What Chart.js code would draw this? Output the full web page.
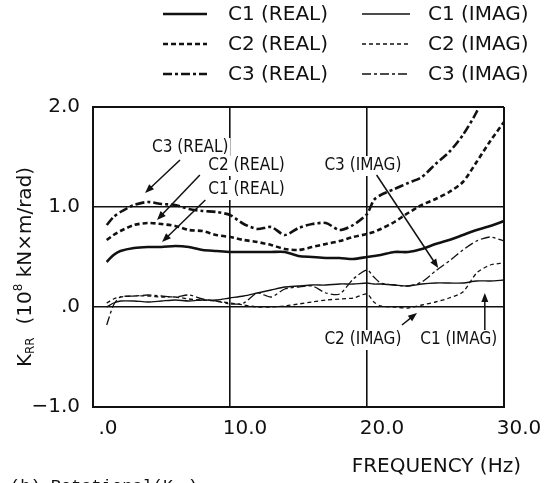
<!DOCTYPE html>
<html>
<head>
<meta charset="utf-8">
<script src="https://cdn.jsdelivr.net/npm/chart.js@4.4.0/dist/chart.umd.min.js"></script>
<style>
  html, body { margin: 0; padding: 0; background: #fff; }
  #wrap { width: 544px; height: 483px; }
</style>
</head>
<body>
<div id="wrap"><canvas id="chart" width="544" height="483"></canvas></div>
<script>
// ── Dados ──
const freq   = [1, 1.5, 2, 3, 4, 5, 6, 7, 8, 9, 10, 11, 12, 13, 14, 15, 16, 17, 18, 19, 20, 20.5, 21, 22, 23, 24, 25, 26, 27, 28, 29, 30];
const c1Real = [0.45, 0.52, 0.56, 0.59, 0.60, 0.60, 0.61, 0.60, 0.57, 0.56, 0.55, 0.55, 0.55, 0.55, 0.55, 0.51, 0.50, 0.49, 0.49, 0.48, 0.50, 0.51, 0.52, 0.55, 0.55, 0.58, 0.63, 0.67, 0.72, 0.77, 0.81, 0.86];
const c2Real = [0.67, 0.72, 0.76, 0.82, 0.84, 0.83, 0.81, 0.77, 0.76, 0.72, 0.70, 0.67, 0.65, 0.62, 0.58, 0.57, 0.60, 0.63, 0.66, 0.70, 0.73, 0.75, 0.78, 0.85, 0.94, 1.02, 1.08, 1.15, 1.25, 1.45, 1.66, 1.85];
const c3Real = [0.82, 0.90, 0.95, 1.02, 1.05, 1.03, 1.02, 0.98, 0.96, 0.95, 0.92, 0.83, 0.78, 0.80, 0.72, 0.79, 0.83, 0.84, 0.77, 0.82, 0.93, 1.07, 1.12, 1.18, 1.24, 1.30, 1.43, 1.55, 1.72, 1.95, 2.25, null];
const c1Imag = [0.00, 0.04, 0.06, 0.06, 0.05, 0.06, 0.07, 0.06, 0.07, 0.07, 0.09, 0.11, 0.14, 0.17, 0.20, 0.21, 0.22, 0.22, 0.23, 0.23, 0.24, 0.23, 0.23, 0.22, 0.21, 0.23, 0.24, 0.24, 0.24, 0.26, 0.26, 0.27];
const c2Imag = [0.04, 0.08, 0.10, 0.11, 0.11, 0.10, 0.10, 0.08, 0.07, 0.06, 0.04, 0.02, 0.00, 0.00, 0.01, 0.03, 0.05, 0.07, 0.08, 0.09, 0.13, 0.05, 0.01, 0.00, -0.01, 0.02, 0.05, 0.09, 0.15, 0.34, 0.42, 0.44];
const c3Imag = [-0.18, 0.02, 0.10, 0.11, 0.12, 0.11, 0.10, 0.12, 0.08, 0.06, 0.03, 0.04, 0.14, 0.10, 0.18, 0.20, 0.21, 0.14, 0.13, 0.28, 0.37, 0.30, 0.24, 0.22, 0.21, 0.25, 0.36, 0.46, 0.57, 0.66, 0.70, 0.66];

const xTicks = [0, 10, 20, 30];
const yTicks = [-1, 0, 1, 2];
const xTickLabels = ['.0', '10.0', '20.0', '30.0'];
const yTickLabels = ['\u22121.0', '.0', '1.0', '2.0'];

// Rótulos com seta: texto, posição do texto, início e ponta da seta (em Hz / valor)
const callouts = [
    { text: 'C3 (REAL)', at: [7.1, 1.59],  from: [6.35, 1.47], to: [3.8, 1.14] },
    { text: 'C2 (REAL)', at: [11.2, 1.41], from: [7.8, 1.32],  to: [4.67, 0.87] },
    { text: 'C1 (REAL)', at: [11.2, 1.17], from: [8.2, 1.07],  to: [5.04, 0.65] },
    { text: 'C3 (IMAG)', at: [19.7, 1.41], from: [20.7, 1.32], to: [25.2, 0.39] },
    { text: 'C2 (IMAG)', at: [19.7, -0.33], from: [22.55, -0.18], to: [23.65, -0.06] },
    { text: 'C1 (IMAG)', at: [26.7, -0.33], from: [28.6, -0.23], to: [28.6, 0.14] }
];

const INK = '#111';
const pts = vals => freq.map((f, i) => ({ x: f, y: vals[i] }));

function serie(label, vals, width, dash) {
    return {
        label, data: pts(vals),
        borderColor: INK, borderWidth: width, borderDash: dash,
        pointRadius: 0, tension: 0.25, fill: false, spanGaps: false
    };
}

// ── Legenda própria (2 colunas x 3 linhas) ──
const legendaPlugin = {
    id: 'legenda',
    afterDraw(chart) {
        const ctx = chart.ctx;
        const rows = [14, 44, 74];
        const cols = [{ x0: 163, x1: 207, tx: 228 }, { x0: 362, x1: 410, tx: 428 }];
        ctx.save();
        ctx.font = '20px "DejaVu Sans"';
        ctx.fillStyle = INK;
        ctx.textBaseline = 'middle';
        chart.data.datasets.forEach((ds, i) => {
            const c = cols[Math.floor(i / 3)], y = rows[i % 3];
            ctx.strokeStyle = INK;
            ctx.lineWidth = ds.borderWidth;
            ctx.setLineDash(ds.borderDash || []);
            ctx.beginPath(); ctx.moveTo(c.x0, y); ctx.lineTo(c.x1, y); ctx.stroke();
            ctx.setLineDash([]);
            ctx.fillText(ds.label, c.tx, y + 1);
        });
        ctx.restore();
    }
};

// ── Rótulos, setas e títulos ──
function seta(ctx, x0, y0, x1, y1) {
    const a = Math.atan2(y1 - y0, x1 - x0), L = 9, W = 3.5;
    ctx.beginPath(); ctx.moveTo(x0, y0); ctx.lineTo(x1 - L * 0.6 * Math.cos(a), y1 - L * 0.6 * Math.sin(a)); ctx.stroke();
    ctx.beginPath();
    ctx.moveTo(x1, y1);
    ctx.lineTo(x1 - L * Math.cos(a) + W * Math.sin(a), y1 - L * Math.sin(a) - W * Math.cos(a));
    ctx.lineTo(x1 - L * Math.cos(a) - W * Math.sin(a), y1 - L * Math.sin(a) + W * Math.cos(a));
    ctx.closePath(); ctx.fill();
}

const anotacoesPlugin = {
    id: 'anotacoes',
    afterDatasetsDraw(chart) {
        const ctx = chart.ctx, sx = chart.scales.x, sy = chart.scales.y;
        ctx.save();
        ctx.font = '17px "DejaVu Sans Condensed", "DejaVu Sans"';
        ctx.textAlign = 'center';
        ctx.textBaseline = 'middle';
        ctx.strokeStyle = INK; ctx.fillStyle = INK; ctx.lineWidth = 1.5;
        callouts.forEach(c => {
            const x = sx.getPixelForValue(c.at[0]), y = sy.getPixelForValue(c.at[1]);
            const w = ctx.measureText(c.text).width;
            ctx.fillStyle = '#fff';
            ctx.fillRect(x - w / 2 - 2, y - 10, w + 4, 20);
            ctx.fillStyle = INK;
            ctx.fillText(c.text, x, y);
            seta(ctx, sx.getPixelForValue(c.from[0]), sy.getPixelForValue(c.from[1]),
                      sx.getPixelForValue(c.to[0]), sy.getPixelForValue(c.to[1]));
        });
        ctx.restore();
    },
    afterDraw(chart) {
        const ctx = chart.ctx;
        ctx.save();
        ctx.fillStyle = INK;
        // título do eixo y: K_RR (10^8 kN×m/rad)
        ctx.translate(26, 267);
        ctx.rotate(-Math.PI / 2);
        ctx.textBaseline = 'middle';
        const partes = [
            { t: 'K', f: '20px "DejaVu Sans"', dy: 0 },
            { t: 'RR', f: '12px "DejaVu Sans"', dy: 5 },
            { t: '  (10', f: '20px "DejaVu Sans"', dy: 0 },
            { t: '8', f: '12px "DejaVu Sans"', dy: -7 },
            { t: ' kN\u00D7m/rad)', f: '20px "DejaVu Sans"', dy: 0 }
        ];
        let total = 0;
        partes.forEach(p => { ctx.font = p.f; p.w = ctx.measureText(p.t).width; total += p.w; });
        let x = -total / 2;
        partes.forEach(p => { ctx.font = p.f; ctx.fillText(p.t, x, p.dy); x += p.w; });
        ctx.restore();

        ctx.save();
        ctx.fillStyle = INK;
        ctx.font = '20px "DejaVu Sans"';
        ctx.textAlign = 'right';
        ctx.textBaseline = 'middle';
        ctx.fillText('FREQUENCY (Hz)', 521, 467);
        // legenda da figura, cortada na borda inferior
        ctx.textAlign = 'left';
        ctx.textBaseline = 'alphabetic';
        ctx.font = '17px "Liberation Mono"';
        ctx.fillText('(b) Rotational(K', 10, 491);
        const wK = ctx.measureText('(b) Rotational(K').width;
        ctx.font = '12px "Liberation Mono"';
        ctx.fillText('RR', 10 + wK, 495);
        const wR = ctx.measureText('RR').width;
        ctx.font = '17px "Liberation Mono"';
        ctx.fillText(')', 10 + wK + wR, 491);
        ctx.restore();
    }
};

const edgeWidth = ctx => (ctx.index === 0 || ctx.index === ctx.scale.ticks.length - 1) ? 2 : 1.6;

new Chart(document.getElementById('chart'), {
    type: 'line',
    data: {
        datasets: [
            serie('C1 (REAL)', c1Real, 2.6, []),
            serie('C2 (REAL)', c2Real, 2.6, [5, 3]),
            serie('C3 (REAL)', c3Real, 2.6, [9, 3, 3, 3]),
            serie('C1 (IMAG)', c1Imag, 1.3, []),
            serie('C2 (IMAG)', c2Imag, 1.3, [4, 3]),
            serie('C3 (IMAG)', c3Imag, 1.3, [9, 3, 3, 3])
        ]
    },
    options: {
        responsive: false,
        animation: false,
        devicePixelRatio: 1,
        layout: { padding: { top: 107, right: 40, left: 0, bottom: 0 } },
        plugins: { legend: { display: false }, tooltip: { enabled: false } },
        scales: {
            x: {
                type: 'linear', min: 0, max: 30,
                afterBuildTicks: s => { s.ticks = xTicks.map(v => ({ value: v })); },
                afterFit: s => { s.height = 76; },
                grid: { color: INK, lineWidth: edgeWidth, drawTicks: false },
                border: { display: true, color: INK, width: 2 },
                ticks: {
                    padding: 10, labelOffset: 15, color: INK, maxRotation: 0,
                    font: { family: 'DejaVu Sans', size: 20 },
                    callback: v => xTickLabels[xTicks.indexOf(v)]
                }
            },
            y: {
                type: 'linear', min: -1, max: 2,
                afterBuildTicks: s => { s.ticks = yTicks.map(v => ({ value: v })); },
                afterFit: s => { s.width = 93; },
                grid: { color: INK, lineWidth: edgeWidth, drawTicks: false },
                border: { display: true, color: INK, width: 2 },
                ticks: {
                    padding: 13, color: INK,
                    font: { family: 'DejaVu Sans', size: 20 },
                    callback: v => yTickLabels[yTicks.indexOf(v)]
                }
            }
        }
    },
    plugins: [legendaPlugin, anotacoesPlugin]
});
</script>
</body>
</html>
